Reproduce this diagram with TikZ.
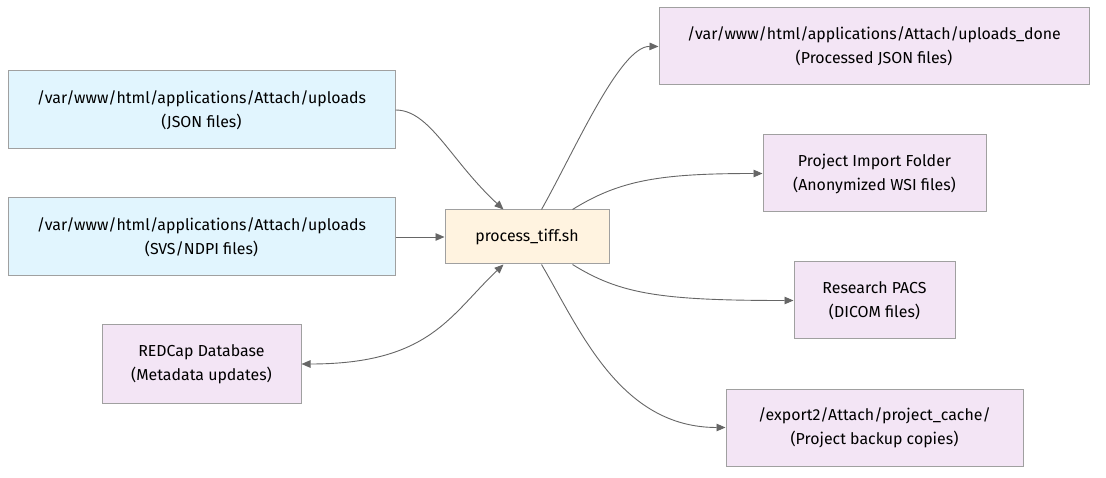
\documentclass[tikz,border=0pt]{standalone}
\usepackage{fontspec}
\setmainfont{Fira Sans}
\usetikzlibrary{arrows.meta,calc}
\definecolor{bluefill}{HTML}{E1F5FE}
\definecolor{purplefill}{HTML}{F3E5F5}
\definecolor{orangefill}{HTML}{FFF3E0}
\definecolor{boxline}{HTML}{A0A0A0}
\definecolor{edgeline}{HTML}{666666}
\tikzset{
  box/.style={draw=boxline, line width=1pt, align=center, inner sep=0pt, anchor=center,
    font=\fontsize{15.9}{24}\selectfont, text=black},
  srcbox/.style={box, fill=bluefill},
  dstbox/.style={box, fill=purplefill},
  procbox/.style={box, fill=orangefill},
  edge/.style={draw=edgeline, line width=0.9pt, -{Triangle[length=9pt,width=7.5pt]}},
  biedge/.style={draw=edgeline, line width=0.9pt, {Triangle[length=9pt,width=7.5pt]}-{Triangle[length=9pt,width=7.5pt]}}
}
\begin{document}
\begin{tikzpicture}[x=1pt,y=-1pt]
\useasboundingbox (0,0) rectangle (1106,478);
\node[srcbox, minimum width=387pt, minimum height=78pt] (A1) at (201.5,110) {/var/www/html/applications/Attach/uploads\\(JSON files)};
\node[srcbox, minimum width=387pt, minimum height=78pt] (A2) at (201.5,237) {/var/www/html/applications/Attach/uploads\\(SVS/NDPI files)};
\node[dstbox, minimum width=199pt, minimum height=78pt] (R) at (201.5,364) {REDCap Database\\(Metadata updates)};
\node[procbox, minimum width=164pt, minimum height=54pt] (P) at (527,237) {process\_tiff.sh};
\node[dstbox, minimum width=430pt, minimum height=77pt] (D1) at (874,46.5) {/var/www/html/applications/Attach/uploads\_done\\(Processed JSON files)};
\node[dstbox, minimum width=223pt, minimum height=77pt] (D2) at (874.5,173.5) {Project Import Folder\\(Anonymized WSI files)};
\node[dstbox, minimum width=161pt, minimum height=77pt] (D3) at (874.5,300.5) {Research PACS\\(DICOM files)};
\node[dstbox, minimum width=297pt, minimum height=77pt] (D4) at (874.5,427.5) {/export2/Attach/project\_cache/\\(Project backup copies)};

\coordinate (Pt1) at ($(P.north west)+(59,0)$);
\coordinate (Pb1) at ($(P.south west)+(59,0)$);
\coordinate (Pt2) at ($(P.north west)+(97,0)$);
\coordinate (Pt3) at ($(P.north west)+(128,0)$);
\coordinate (Pb2) at ($(P.south west)+(97,0)$);
\coordinate (Pb3) at ($(P.south west)+(128,0)$);

\draw[edge] (A1.east) .. controls (430,110) and (450,160) .. (Pt1);
\draw[edge] (A2.east) -- (P.west);
\draw[biedge] (R.east) .. controls (430,364) and (450,315) .. (Pb1);
\draw[edge] (Pt2) .. controls (575,150) and (620,46) .. (D1.west);
\draw[edge] (Pt3) .. controls (620,180) and (660,173.5) .. (D2.west);
\draw[edge] (Pb3) .. controls (620,294) and (660,300.5) .. (D3.west);
\draw[edge] (Pb2) .. controls (580,330) and (620,427.5) .. (D4.west);
\end{tikzpicture}
\end{document}
